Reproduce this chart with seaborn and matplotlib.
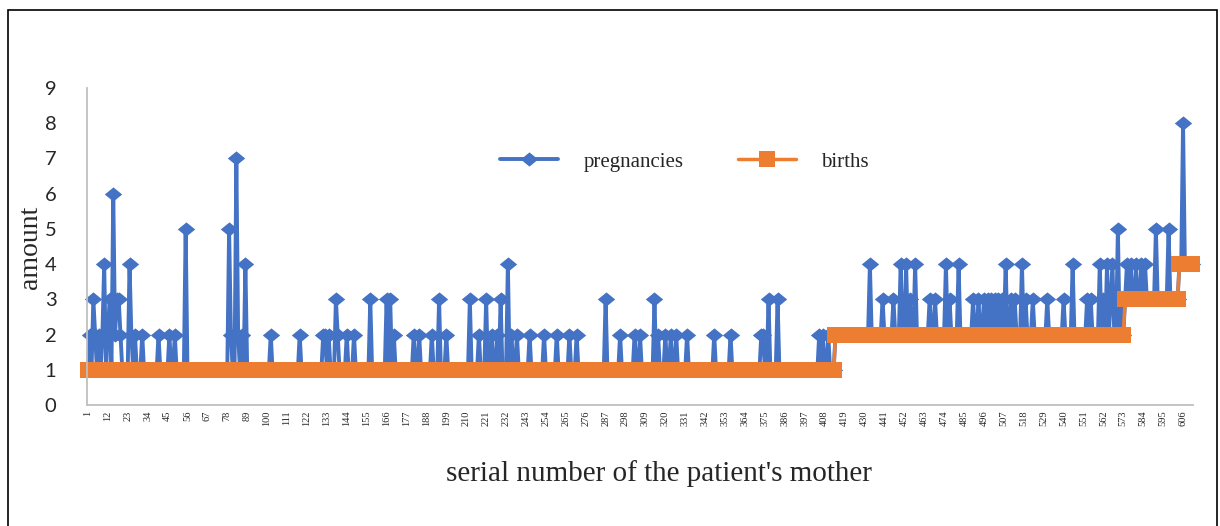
import numpy as np
import pandas as pd
import matplotlib
matplotlib.use('Agg')
import matplotlib.pyplot as plt
from matplotlib.patches import Rectangle
import seaborn as sns

# births: constant levels with run lengths (mothers sorted by births)
birth_levels = [1, 2, 3, 4]
birth_runs = [413, 160, 30, 8]

# pregnancies that differ from the births count (serial number, value)
spike_idx = [2, 4, 5, 7, 9, 10, 12, 13, 15, 16, 17, 18, 19, 24, 25, 27, 31, 40, 46, 49,
             55, 79, 80, 83, 84, 86, 88,
             102, 118, 131, 132, 134, 138, 139, 144, 148, 157, 166, 168, 170, 181, 184,
             191, 195, 199, 212, 217, 221, 224, 227, 229, 233, 235, 238, 245, 253, 260,
             267, 271,
             287, 295, 303, 306, 314, 316, 320, 323, 326, 332, 347, 356, 373, 374, 377,
             382, 405, 407, 410,
             433, 440, 446, 450, 453, 455, 458, 466, 469, 475, 477, 482, 490, 493, 496,
             498, 500, 502, 504, 506, 508, 511, 513, 517, 519, 523, 531, 540, 545, 553,
             555, 560, 562, 564, 566, 567, 570, 572,
             575, 577, 580, 583, 585, 591, 598,
             606]
spike_val = [2, 3, 2, 2, 2, 4, 2, 3, 6, 2, 3, 3, 2, 4, 2, 2, 2, 2, 2, 2,
             5, 5, 2, 7, 2, 2, 4,
             2, 2, 2, 2, 2, 3, 2, 2, 2, 3, 3, 3, 2, 2, 2,
             2, 3, 2, 3, 2, 3, 2, 2, 3, 4, 2, 2, 2, 2, 2,
             2, 2,
             3, 2, 2, 2, 3, 2, 2, 2, 2, 2, 2, 2, 2, 2, 3,
             3, 2, 2, 2,
             4, 3, 3, 4, 4, 3, 4, 3, 3, 4, 3, 4, 3, 3, 3,
             3, 3, 3, 3, 3, 4, 3, 3, 4, 3, 3, 3, 3, 4, 3,
             3, 4, 3, 4, 3, 4, 5, 3,
             4, 4, 4, 4, 4, 5, 5,
             8]

x_ticks = list(range(1, 607, 11))

births = np.repeat(birth_levels, birth_runs)
serial = np.arange(1, len(births) + 1)
pregnancies = births.copy()
pregnancies[np.array(spike_idx) - 1] = spike_val
df = pd.DataFrame({'serial': serial, 'pregnancies': pregnancies, 'births': births})

sns.set_style('white')
serif = 'Liberation Serif'

fig = plt.figure(figsize=(12.2, 5.26), dpi=100)
ax = fig.add_axes([87 / 1220, 1 - 405 / 526, (1193 - 87) / 1220, (405 - 88) / 526])

diamond = [(-1, 0), (0, 0.82), (1, 0), (0, -0.82), (-1, 0)]
sns.lineplot(data=df, x='serial', y='pregnancies', ax=ax, color='#4472C4', linewidth=2.8,
             marker=diamond, markersize=12.5, markeredgewidth=0, label='pregnancies',
             clip_on=False)
sns.lineplot(data=df, x='serial', y='births', ax=ax, color='#ED7D31', linewidth=2.5,
             marker='s', markersize=11.3, markeredgewidth=0, label='births',
             clip_on=False)

ax.set_xlim(0.5, 611.5)
ax.set_ylim(0, 9)
ax.set_yticks(range(0, 10))
ax.set_xticks(x_ticks)
ax.set_xticklabels([str(t) for t in x_ticks], rotation=90, fontsize=7.5, family=serif)
ax.tick_params(axis='x', length=0, pad=4)
ax.tick_params(axis='y', length=0, pad=22, labelsize=14.5)
for lab in ax.get_yticklabels():
    lab.set_family('Lato')
ax.set_xlabel('')
ax.set_ylabel('')
for s in ['top', 'right']:
    ax.spines[s].set_visible(False)
for s in ['left', 'bottom']:
    ax.spines[s].set_color('#BFBFBF')
    ax.spines[s].set_linewidth(1.3)
ax.grid(False)

fig.text(31 / 1220, 1 - 247 / 526, 'amount', rotation=90, ha='center', va='center',
         fontsize=20, family=serif)
fig.text(659 / 1220, 1 - 474 / 526, "serial number of the patient's mother", ha='center',
         va='center', fontsize=21, family=serif)

ax.legend(loc='center', bbox_to_anchor=(0.54, 0.767), ncol=2, frameon=False,
          prop={'family': serif, 'size': 15}, handlelength=2.8, handletextpad=1.2,
          columnspacing=2.6)

fig.patches.append(Rectangle((8 / 1220, -0.05), 1209 / 1220, 1.05 - 10 / 526,
                             transform=fig.transFigure, fill=False, edgecolor='black',
                             linewidth=1.2))

fig.savefig('out.png', dpi=100)
